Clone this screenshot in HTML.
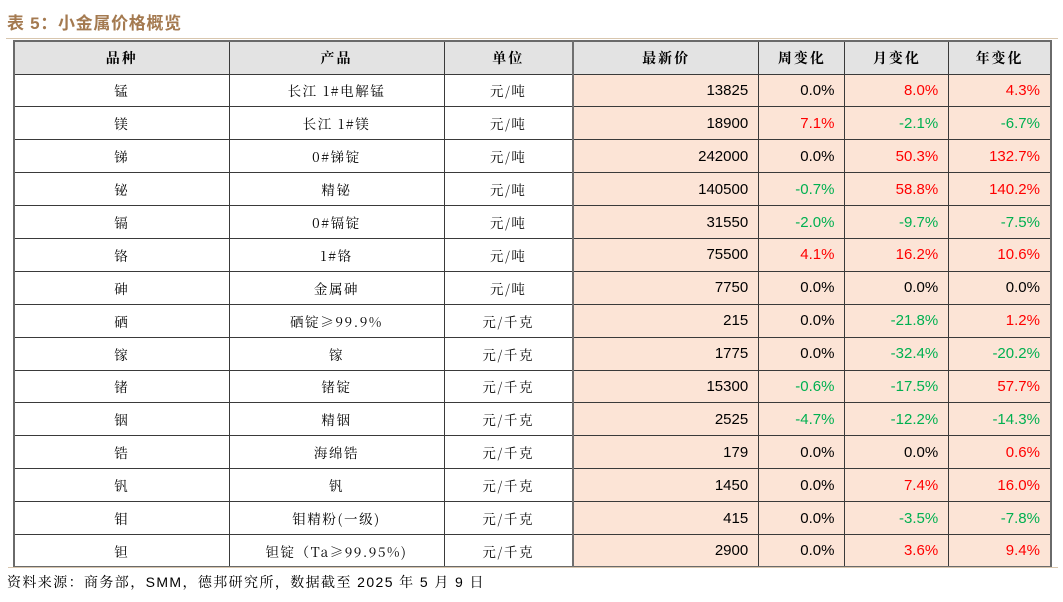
<!DOCTYPE html>
<html>
<head>
<meta charset="utf-8">
<style>
  html,body{margin:0;padding:0;background:#fff;}
  body{width:1063px;height:602px;position:relative;overflow:hidden;
       font-family:"Liberation Sans","Noto Serif CJK SC",serif;}
  .title{position:absolute;left:7px;top:9px;font-size:17px;font-weight:bold;color:#a47a50;
         font-family:"Liberation Sans","Noto Sans CJK SC",sans-serif;letter-spacing:0.7px;white-space:nowrap;}
  .tline{position:absolute;left:6px;top:38px;width:1052px;height:1px;background:#d8c6ae;}
  .bline{position:absolute;left:8px;top:567px;width:1050px;height:1px;background:#d8c6ae;}
  table{position:absolute;left:13px;top:40px;width:1037px;border-collapse:collapse;table-layout:fixed;
        border:2px solid #6a6a6a;}
  td,th{border:1.5px solid #3a3a3a;padding:0;font-size:14px;color:#000;white-space:nowrap;overflow:hidden;}
  th{background:#e3e3e3;font-weight:bold;text-align:center;letter-spacing:2px;
     font-family:"Noto Serif CJK SC",serif;}
  tr.h{height:33px;}
  tr.r{height:32.9px;}
  td.c{text-align:center;font-size:13.5px;letter-spacing:1.6px;font-family:"Noto Serif CJK SC","Liberation Sans",serif;}
  td.n{text-align:right;padding-right:10px;background:#fce4d6;font-size:15px;font-family:"Liberation Sans",sans-serif;}
  .vl{border-left:2px solid #707070;}
  .red{color:#ff0000 !important;}
  .grn{color:#00b050 !important;}
  .foot{position:absolute;left:7px;top:572px;font-size:14px;color:#000;white-space:nowrap;letter-spacing:1.4px;
        font-family:"Liberation Sans","Noto Serif CJK SC",serif;}
</style>
</head>
<body>
<div class="title">表 5：小金属价格概览</div>
<div class="tline"></div>
<table>
  <colgroup>
    <col style="width:215px"><col style="width:215px"><col style="width:129px">
    <col style="width:185.7px"><col style="width:86.3px"><col style="width:103.7px"><col style="width:102.3px">
  </colgroup>
  <tr class="h"><th>品种</th><th>产品</th><th>单位</th><th class="vl">最新价</th><th>周变化</th><th>月变化</th><th>年变化</th></tr>
  <tr class="r"><td class="c">锰</td><td class="c">长江 1#电解锰</td><td class="c">元/吨</td><td class="n vl">13825</td><td class="n">0.0%</td><td class="n red">8.0%</td><td class="n red">4.3%</td></tr>
  <tr class="r"><td class="c">镁</td><td class="c">长江 1#镁</td><td class="c">元/吨</td><td class="n vl">18900</td><td class="n red">7.1%</td><td class="n grn">-2.1%</td><td class="n grn">-6.7%</td></tr>
  <tr class="r"><td class="c">锑</td><td class="c">0#锑锭</td><td class="c">元/吨</td><td class="n vl">242000</td><td class="n">0.0%</td><td class="n red">50.3%</td><td class="n red">132.7%</td></tr>
  <tr class="r"><td class="c">铋</td><td class="c">精铋</td><td class="c">元/吨</td><td class="n vl">140500</td><td class="n grn">-0.7%</td><td class="n red">58.8%</td><td class="n red">140.2%</td></tr>
  <tr class="r"><td class="c">镉</td><td class="c">0#镉锭</td><td class="c">元/吨</td><td class="n vl">31550</td><td class="n grn">-2.0%</td><td class="n grn">-9.7%</td><td class="n grn">-7.5%</td></tr>
  <tr class="r"><td class="c">铬</td><td class="c">1#铬</td><td class="c">元/吨</td><td class="n vl">75500</td><td class="n red">4.1%</td><td class="n red">16.2%</td><td class="n red">10.6%</td></tr>
  <tr class="r"><td class="c">砷</td><td class="c">金属砷</td><td class="c">元/吨</td><td class="n vl">7750</td><td class="n">0.0%</td><td class="n">0.0%</td><td class="n">0.0%</td></tr>
  <tr class="r"><td class="c">硒</td><td class="c">硒锭≥99.9%</td><td class="c">元/千克</td><td class="n vl">215</td><td class="n">0.0%</td><td class="n grn">-21.8%</td><td class="n red">1.2%</td></tr>
  <tr class="r"><td class="c">镓</td><td class="c">镓</td><td class="c">元/千克</td><td class="n vl">1775</td><td class="n">0.0%</td><td class="n grn">-32.4%</td><td class="n grn">-20.2%</td></tr>
  <tr class="r"><td class="c">锗</td><td class="c">锗锭</td><td class="c">元/千克</td><td class="n vl">15300</td><td class="n grn">-0.6%</td><td class="n grn">-17.5%</td><td class="n red">57.7%</td></tr>
  <tr class="r"><td class="c">铟</td><td class="c">精铟</td><td class="c">元/千克</td><td class="n vl">2525</td><td class="n grn">-4.7%</td><td class="n grn">-12.2%</td><td class="n grn">-14.3%</td></tr>
  <tr class="r"><td class="c">锆</td><td class="c">海绵锆</td><td class="c">元/千克</td><td class="n vl">179</td><td class="n">0.0%</td><td class="n">0.0%</td><td class="n red">0.6%</td></tr>
  <tr class="r"><td class="c">钒</td><td class="c">钒</td><td class="c">元/千克</td><td class="n vl">1450</td><td class="n">0.0%</td><td class="n red">7.4%</td><td class="n red">16.0%</td></tr>
  <tr class="r"><td class="c">钼</td><td class="c">钼精粉(一级)</td><td class="c">元/千克</td><td class="n vl">415</td><td class="n">0.0%</td><td class="n grn">-3.5%</td><td class="n grn">-7.8%</td></tr>
  <tr class="r"><td class="c">钽</td><td class="c">钽锭（Ta≥99.95%)</td><td class="c">元/千克</td><td class="n vl">2900</td><td class="n">0.0%</td><td class="n red">3.6%</td><td class="n red">9.4%</td></tr>
</table>
<div class="bline"></div>
<div class="foot">资料来源：商务部，SMM，德邦研究所，数据截至 2025 年 5 月 9 日</div>
</body>
</html>
